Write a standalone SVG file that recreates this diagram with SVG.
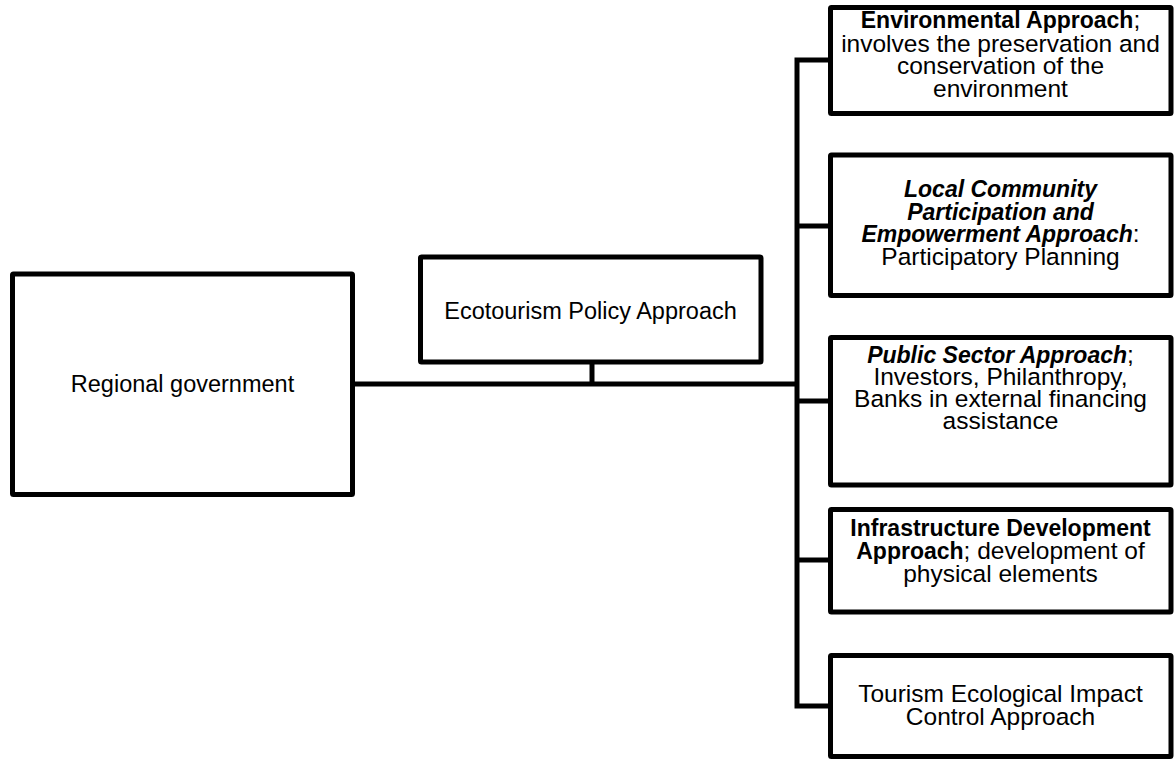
<svg xmlns="http://www.w3.org/2000/svg" width="1176" height="759" viewBox="0 0 1176 759">
<style>
.box{fill:#fff;stroke:#000;stroke-width:5;stroke-linejoin:round}
.con{fill:none;stroke:#000;stroke-width:5;stroke-linejoin:miter;stroke-linecap:butt}
.t{font-family:"Liberation Sans",Arial,sans-serif;font-size:23.5px;text-anchor:middle;fill:#000}
.r{font-size:24.5px}
.b{font-weight:bold;font-size:23px}
.bi{font-weight:bold;font-style:italic;font-size:23px}
</style>
<rect width="1176" height="759" fill="#fff"/>
<g id="connectors">
<path class="con" d="M352.5 384 H797"/>
<path class="con" d="M592 362 V384"/>
<path class="con" d="M830 60 H797 V706 H830"/>
<path class="con" d="M797 226 H830"/>
<path class="con" d="M797 401 H830"/>
<path class="con" d="M797 560 H830"/>
</g>
<g id="regional">
<rect class="box" x="12.5" y="274" width="340" height="220.5" rx="1"/>
<text class="t" x="182.5" y="391.5">Regional government</text>
</g>
<g id="policy">
<rect class="box" x="420.5" y="257" width="340.5" height="105" rx="1"/>
<text class="t" x="590.5" y="319">Ecotourism Policy Approach</text>
</g>
<g id="environmental">
<rect class="box" x="830.5" y="7.5" width="340.5" height="106" rx="1"/>
<text class="t r"><tspan x="1000.5" y="28"><tspan class="b">Environmental Approach</tspan>;</tspan><tspan x="1000.5" y="51.5">involves the preservation and</tspan><tspan x="1000.5" y="74">conservation of the</tspan><tspan x="1000.5" y="96.5">environment</tspan></text>
</g>
<g id="community">
<rect class="box" x="830.5" y="155" width="340.5" height="140.5" rx="1"/>
<text class="t r"><tspan x="1000.5" y="197" class="bi">Local Community</tspan><tspan x="1000.5" y="219.5" class="bi">Participation and</tspan><tspan x="1000.5" y="241.5"><tspan class="bi">Empowerment Approach</tspan>:</tspan><tspan x="1000.5" y="265">Participatory Planning</tspan></text>
</g>
<g id="public">
<rect class="box" x="830.5" y="337.5" width="340.5" height="147.5" rx="1"/>
<text class="t r"><tspan x="1000.5" y="363"><tspan class="bi">Public Sector Approach</tspan>;</tspan><tspan x="1000.5" y="385">Investors, Philanthropy,</tspan><tspan x="1000.5" y="407">Banks in external financing</tspan><tspan x="1000.5" y="429">assistance</tspan></text>
</g>
<g id="infrastructure">
<rect class="box" x="830.5" y="509.5" width="340.5" height="102.5" rx="1"/>
<text class="t r"><tspan x="1000.5" y="536" class="b">Infrastructure Development</tspan><tspan x="1000.5" y="558.5"><tspan class="b">Approach</tspan>; development of</tspan><tspan x="1000.5" y="581.5">physical elements</tspan></text>
</g>
<g id="impact">
<rect class="box" x="830.5" y="655.5" width="340.5" height="101" rx="1"/>
<text class="t r"><tspan x="1000.5" y="701.5">Tourism Ecological Impact</tspan><tspan x="1000.5" y="724.5">Control Approach</tspan></text>
</g>
</svg>
